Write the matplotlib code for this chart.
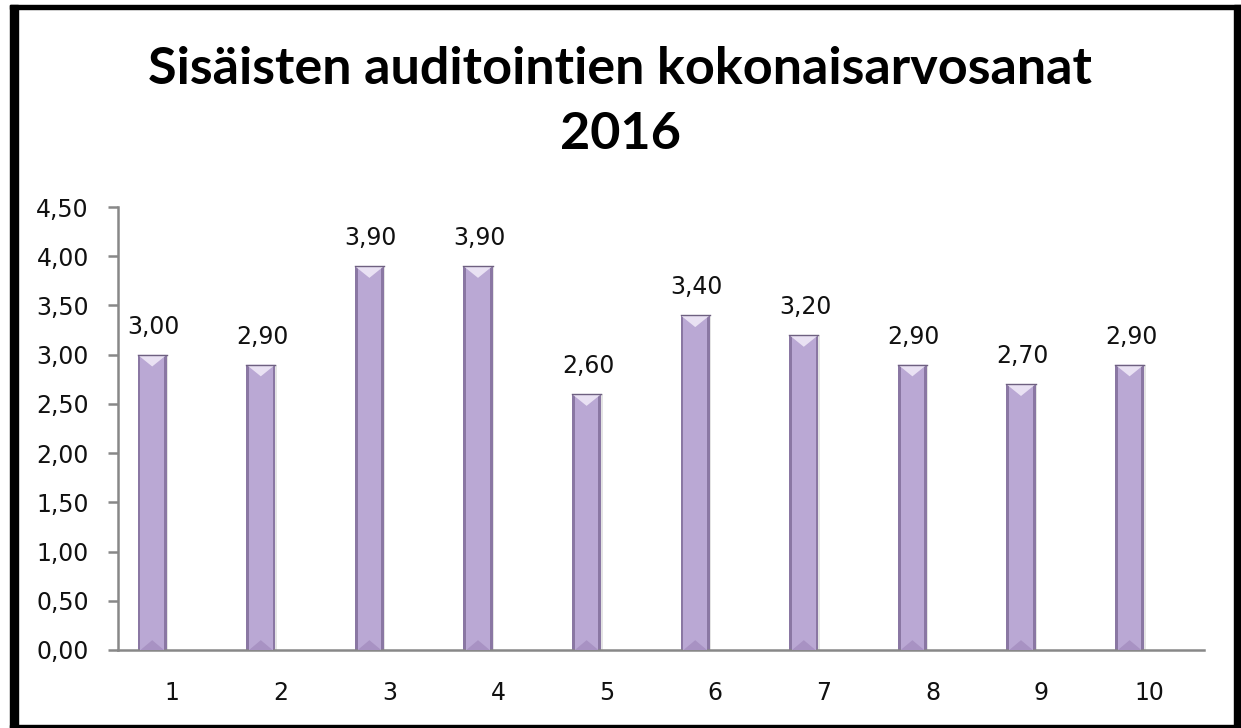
import numpy as np
import matplotlib.pyplot as plt
from matplotlib.patches import Rectangle, Polygon
from matplotlib.ticker import FuncFormatter, MultipleLocator

categories = ['1', '2', '3', '4', '5', '6', '7', '8', '9', '10']
scores = [3.00, 2.90, 3.90, 3.90, 2.60, 3.40, 3.20, 2.90, 2.70, 2.90]
title = 'Sisäisten auditointien kokonaisarvosanat\n2016'

W, H = 1241, 728
fig = plt.figure(figsize=(W / 100, H / 100), dpi=100)
ax = fig.add_axes([118 / W, 1 - 650 / H, (1204 - 118) / W, (650 - 207) / H])

x = np.arange(1, len(scores) + 1)
xb = x - 0.185   # 3D columns sit a bit left of their category label
bw = 0.27
edge = '#8A77A3'
face = '#BAA8D4'
light = '#E9E1F3'

fmt = lambda v: f'{v:.2f}'.replace('.', ',')

# soft shadow, dark body, lighter face, highlight chevron on top
ax.bar(xb + 0.012, scores, width=bw, color='#E4E4E4', zorder=1)
ax.bar(xb, scores, width=bw, color=edge, zorder=2)
ax.bar(xb, scores, width=bw * 0.8, color=face, zorder=3)
for xi, v in zip(xb, scores):
    ax.add_patch(Polygon([(xi - bw / 2, v), (xi + bw / 2, v), (xi, v - 0.12)],
                         closed=True, color=light, zorder=4, lw=0))
    ax.plot([xi - bw / 2, xi + bw / 2], [v, v], color='#6E6080', lw=1, zorder=5)
    ax.add_patch(Polygon([(xi - bw * 0.4, 0), (xi + bw * 0.4, 0), (xi, 0.1)],
                         closed=True, color='#A892C3', zorder=4, lw=0))
    ax.annotate(fmt(v), (xi, v), xytext=(1, 15), textcoords='offset points',
                ha='center', va='baseline', fontsize=17, color='#111111',
                family='DejaVu Sans')

ax.set_xlim(0.5, len(scores) + 0.5)
ax.set_ylim(0, 4.5)
ax.set_xticks(x)
ax.set_xticklabels(categories)
ax.yaxis.set_major_locator(MultipleLocator(0.5))
ax.yaxis.set_major_formatter(FuncFormatter(lambda v, p: fmt(v)))

for s in ['top', 'right']:
    ax.spines[s].set_visible(False)
for s in ['left', 'bottom']:
    ax.spines[s].set_color('#888888')
    ax.spines[s].set_linewidth(1.8)
ax.tick_params(axis='y', length=7, width=1.8, color='#888888', labelsize=17,
               pad=14, labelcolor='#111111')
ax.tick_params(axis='x', length=0, labelsize=17, pad=22, labelcolor='#111111')

fig.text(0.5, 1 - 102 / H, title, ha='center', va='center', fontsize=37.5,
         fontweight='bold', family='Lato', linespacing=1.45)

# black frame around the chart
for (x0, y0, w, h) in [(10, 5, 1231, 4), (10, 5, 8, 723), (1234, 5, 7, 723), (10, 725, 1231, 3)]:
    fig.patches.append(Rectangle((x0 / W, 1 - (y0 + h) / H), w / W, h / H,
                                 transform=fig.transFigure, color='black'))

fig.savefig('out.png', dpi=100)
